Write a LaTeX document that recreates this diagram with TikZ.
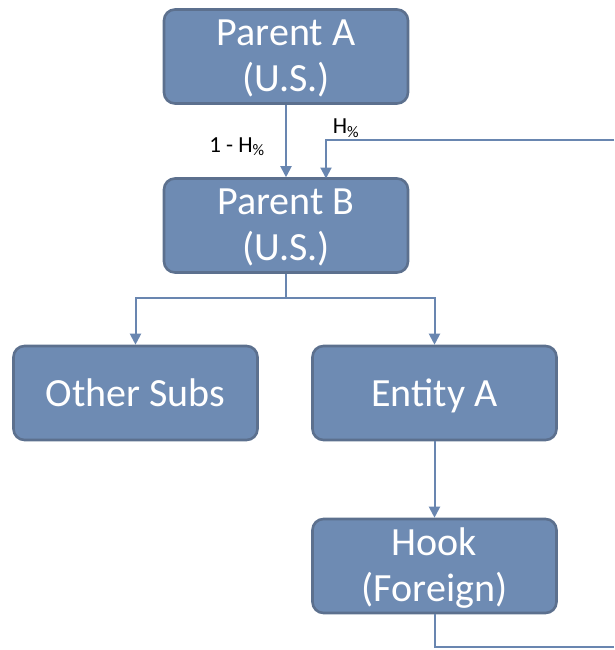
\documentclass[tikz,border=0pt]{standalone}
\usepackage{fontspec}
\setmainfont{Carlito}
\usetikzlibrary{arrows.meta}
\definecolor{boxfill}{RGB}{110,139,179}
\definecolor{boxline}{RGB}{92,112,142}
\definecolor{conn}{RGB}{105,134,176}
\newcommand\twol[2]{\raisebox{0pt}[24pt][46pt]{\begin{tabular}[t]{@{}c@{}}#1\\#2\end{tabular}}}
\newcommand\onel[1]{\raisebox{0pt}[26pt][0pt]{#1}}
\begin{document}
\begin{tikzpicture}[x=1pt,y=-1pt,
  ent/.style={draw=boxline,line width=2.6pt,fill=boxfill,rounded corners=11pt,
    minimum width=244pt,minimum height=94pt,text=white,
    font=\fontsize{40}{46}\selectfont,inner sep=0pt},
  conn/.style={draw=conn,line width=2pt},
  arr/.style={conn,-{Triangle[length=11pt,width=11pt]}},
  lbl/.style={font=\fontsize{23}{26}\selectfont,text=black}]
\useasboundingbox (0,0) rectangle (614,650);
\node[ent] (pa) at (286,56.5) {\twol{Parent A}{(U.S.)}};
\node[ent] (pb) at (286,225.5) {\twol{Parent B}{(U.S.)}};
\node[ent] (os) at (135.5,393) {\onel{Other Subs}};
\node[ent] (ea) at (434.5,393) {\onel{Entity A}};
\node[ent] (hk) at (434.5,566) {\twol{Hook}{(Foreign)}};
\coordinate (split) at (286,298);
\coordinate (tr) at (614,140);
\coordinate (br) at (614,647);
\draw[arr] (tr) -- (326,140) -- (326,178.5);
\draw[arr] (pa.south) -- (pb.south |- pb.north);
\draw[conn] (hk.south) |- (br);
\draw[conn] (pb.south) -- (split);
\draw[arr] (split) -| (os.north);
\draw[arr] (split) -| (ea.north);
\draw[arr] (ea.south) -- (hk.north);
\node[lbl,anchor=base] (l1) at (237,152) {1 - H\textsubscript{\%}};
\node[lbl,anchor=base] (l2) at (346,134) {H\textsubscript{\%}};
\end{tikzpicture}
\end{document}
